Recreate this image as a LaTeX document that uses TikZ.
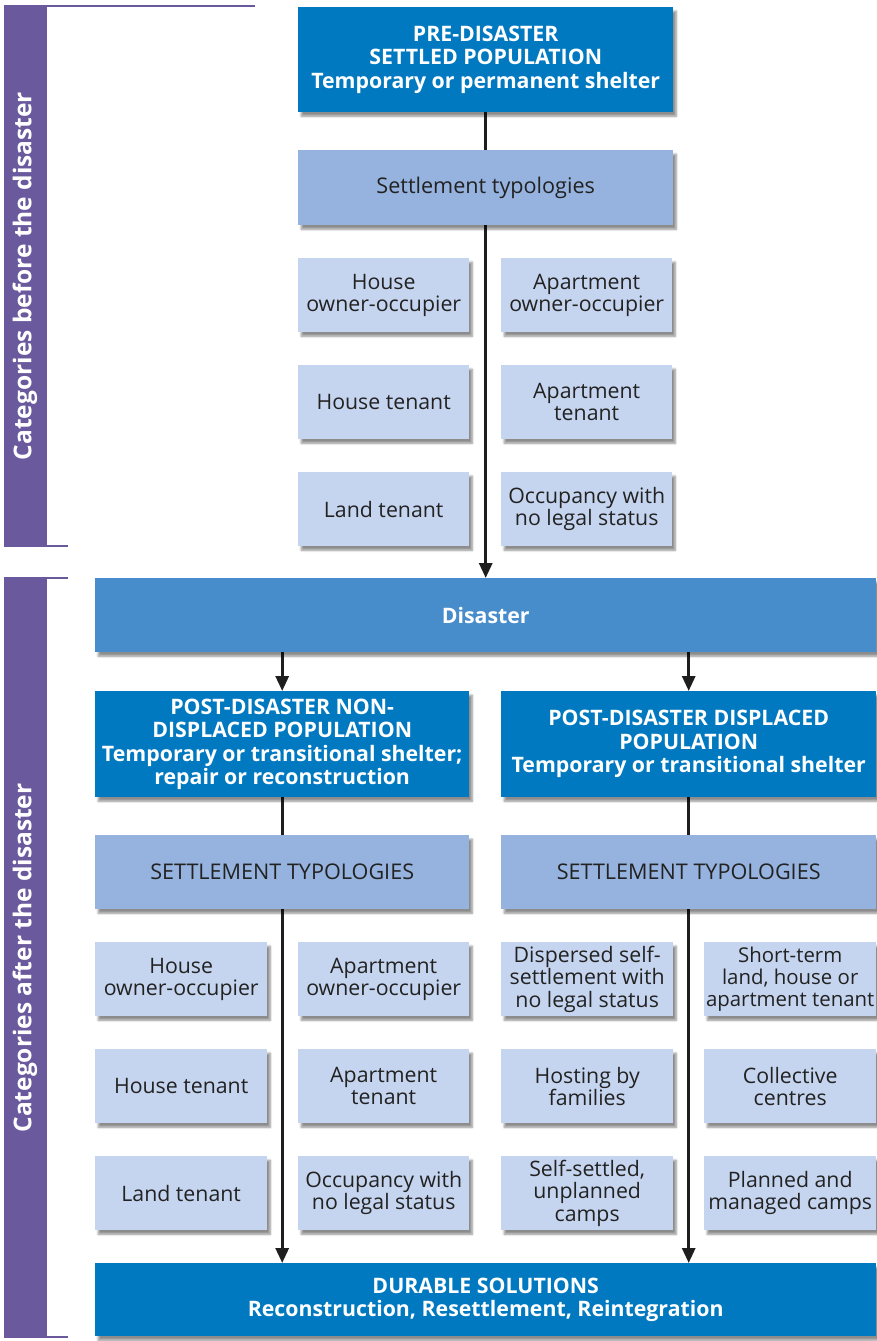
\documentclass[tikz,border=0pt]{standalone}
\usepackage{fontspec}
\setmainfont{Open Sans}
\usetikzlibrary{arrows.meta,shadows.blur,backgrounds}
\definecolor{dblue}{HTML}{0079C1}
\definecolor{mblue}{HTML}{478DCB}
\definecolor{lblue}{HTML}{95B3DE}
\definecolor{pblue}{HTML}{C6D5EF}
\definecolor{purp}{HTML}{6A599D}
\definecolor{txt}{HTML}{222222}
\definecolor{conn}{HTML}{1E1E1E}
\tikzset{
  base/.style={rectangle, anchor=north west, align=center, inner sep=1pt,
    blur shadow={shadow xshift=3pt, shadow yshift=-4pt, shadow blur steps=6, shadow opacity=45}},
  head/.style={base, fill=dblue, text=white, font=\fontsize{21.3}{23.5}\selectfont\bfseries},
  mid/.style={base, fill=mblue, text=white, font=\fontsize{21.3}{23.5}\selectfont\bfseries},
  typ/.style={base, fill=lblue, text=txt, font=\fontsize{21.6}{23}\selectfont},
  small/.style={base, fill=pblue, text=txt, font=\fontsize{21.3}{22.3}\selectfont,
    minimum width=171pt, minimum height=74pt},
  conn/.style={draw=conn, line width=3pt, -{Triangle[width=13pt,length=15pt]}},
  bar/.style={fill=purp, draw=none},
  barline/.style={draw=purp, line width=2pt},
  vlabel/.style={rotate=90, text=white, font=\fontsize{24.5}{26}\selectfont\bfseries}
}
\begin{document}
\begin{tikzpicture}[x=1pt,y=-1pt]
\useasboundingbox (0,0) rectangle (876,1341);
% left category bars
\fill[purp] (4,6) rectangle (47,546);
\draw[barline] (4,6) -- (255,6);
\draw[barline] (4,546) -- (68,546);
\node[vlabel] (catb) at (25,276) {Categories before the disaster};
\fill[purp] (4,578) rectangle (47,1337);
\draw[barline] (4,578) -- (68,578);
\draw[barline] (4,1337) -- (68,1337);
\node[vlabel] (cata) at (25,958) {Categories after the disaster};

% top part
\node[head, minimum width=375pt, minimum height=105pt] (pre) at (298,7)
  {PRE-DISASTER\\SETTLED POPULATION\\Temporary or permanent shelter};
\node[typ, minimum width=375pt, minimum height=75pt] (st1) at (298,150) {Settlement typologies};
\node[small] (b11) at (298,258) {House\\owner-occupier};
\node[small] (b12) at (501,258) {Apartment\\owner-occupier};
\node[small] (b21) at (298,365) {House tenant};
\node[small] (b22) at (501,365) {Apartment\\tenant};
\node[small] (b31) at (298,472) {Land tenant};
\node[small] (b32) at (501,472) {Occupancy with\\no legal status};

% disaster
\node[mid, minimum width=781pt, minimum height=74pt] (dis) at (95,578) {Disaster};

% post-disaster
\node[head, minimum width=374pt, minimum height=106pt] (nd) at (95,691)
  {POST-DISASTER NON-\\DISPLACED POPULATION\\Temporary or transitional shelter;\\repair or reconstruction};
\node[head, minimum width=375pt, minimum height=106pt] (dp) at (501,691)
  {POST-DISASTER DISPLACED\\POPULATION\\Temporary or transitional shelter};
\node[typ, minimum width=374pt, minimum height=74pt] (st2) at (95,835) {SETTLEMENT TYPOLOGIES};
\node[typ, minimum width=375pt, minimum height=74pt] (st3) at (501,835) {SETTLEMENT TYPOLOGIES};

\node[small, minimum width=172pt] (c11) at (95,942) {House\\owner-occupier};
\node[small] (c12) at (298,942) {Apartment\\owner-occupier};
\node[small, minimum width=172pt] (c21) at (95,1049) {House tenant};
\node[small] (c22) at (298,1049) {Apartment\\tenant};
\node[small, minimum width=172pt] (c31) at (95,1156) {Land tenant};
\node[small] (c32) at (298,1156) {Occupancy with\\no legal status};

\node[small, minimum width=172pt] (d11) at (501,942) {Dispersed self-\\settlement with\\no legal status};
\node[small, minimum width=172pt, font=\fontsize{20.4}{22.3}\selectfont] (d12) at (704,942) {Short-term\\land, house or\\apartment tenant};
\node[small, minimum width=172pt] (d21) at (501,1049) {Hosting by\\families};
\node[small, minimum width=172pt] (d22) at (704,1049) {Collective\\centres};
\node[small, minimum width=172pt] (d31) at (501,1156) {Self-settled,\\unplanned\\camps};
\node[small, minimum width=172pt] (d32) at (704,1156) {Planned and\\managed camps};

\node[head, minimum width=781pt, minimum height=73pt] (dur) at (95,1263)
  {DURABLE SOLUTIONS\\Reconstruction, Resettlement, Reintegration};

\begin{pgfonlayer}{background}
\draw[conn] (pre.south) -- (dis.north);
\draw[conn] (dis.south -| nd.north) -- (nd.north);
\draw[conn] (dis.south -| dp.north) -- (dp.north);
\draw[conn] (nd.south) -- (dur.north -| nd.south);
\draw[conn] (dp.south) -- (dur.north -| dp.south);
\end{pgfonlayer}
\end{tikzpicture}
\end{document}
